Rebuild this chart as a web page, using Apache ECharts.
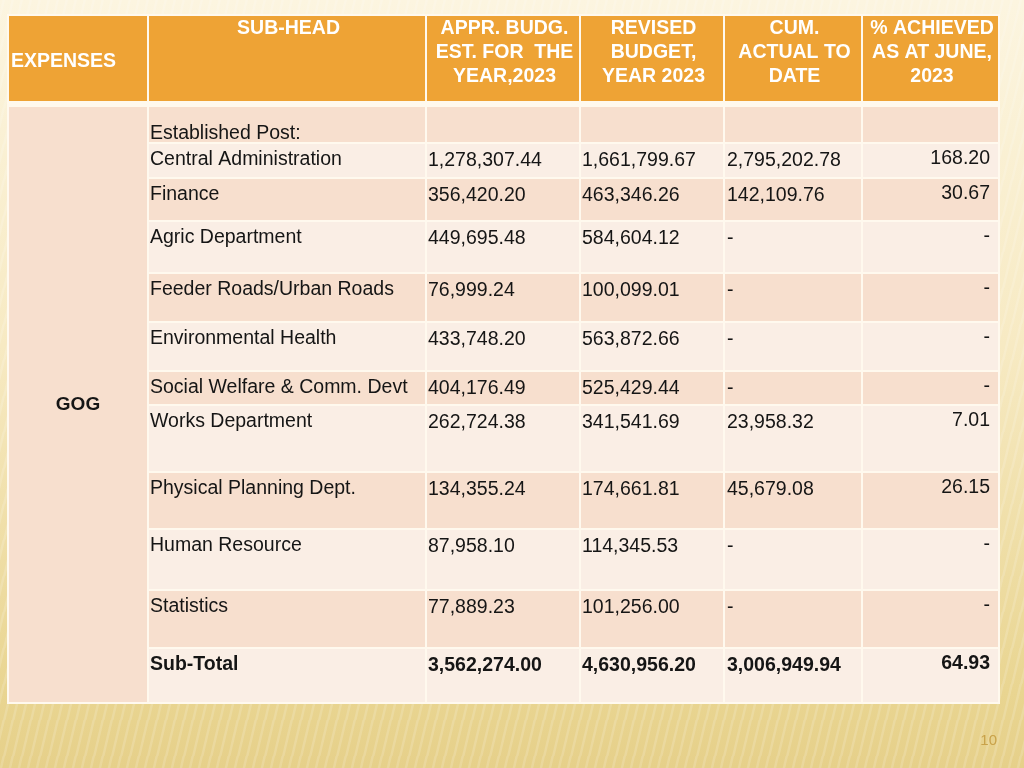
<!DOCTYPE html>
<html>
<head>
<meta charset="utf-8">
<script src="https://cdn.jsdelivr.net/npm/echarts@6/dist/echarts.min.js"></script>
<style>
html,body{margin:0;padding:0;width:1024px;height:768px;overflow:hidden;}
#chart{width:1024px;height:768px;}
</style>
</head>
<body>
<div id="chart"></div>
<script>
// ---------- DATA ----------
const headers = [
  'EXPENSES',
  'SUB-HEAD',
  'APPR. BUDG.\nEST. FOR  THE\nYEAR,2023',
  'REVISED\nBUDGET,\nYEAR 2023',
  'CUM.\nACTUAL TO\nDATE',
  '% ACHIEVED\nAS AT JUNE,\n2023'
];
const groupLabel = 'GOG';
const subHeads = [
  'Established Post:',
  'Central Administration',
  'Finance',
  'Agric Department',
  'Feeder Roads/Urban Roads',
  'Environmental Health',
  'Social Welfare & Comm. Devt',
  'Works Department',
  'Physical Planning Dept.',
  'Human Resource',
  'Statistics',
  'Sub-Total'
];
const approvedBudget = [null, 1278307.44, 356420.20, 449695.48, 76999.24, 433748.20, 404176.49, 262724.38, 134355.24, 87958.10, 77889.23, 3562274.00];
const revisedBudget  = [null, 1661799.67, 463346.26, 584604.12, 100099.01, 563872.66, 525429.44, 341541.69, 174661.81, 114345.53, 101256.00, 4630956.20];
const cumActual      = [null, 2795202.78, 142109.76, 0, 0, 0, 0, 23958.32, 45679.08, 0, 0, 3006949.94];
const pctAchieved    = [null, 168.20, 30.67, 0, 0, 0, 0, 7.01, 26.15, 0, 0, 64.93];
const pageNumber = '10';

// ---------- LAYOUT (table geometry in axis units) ----------
const colEdges = [8, 148, 426, 580, 724, 862, 999];
const headerTop = 15, headerBottom = 102;
const rowEdges = [106, 143, 178, 221, 273, 322, 371, 405, 472, 529, 590, 648, 703];

const FONT = '"Liberation Sans", Arial, Helvetica, sans-serif';
const C_HEADER = '#EEA335';
const C_DARK = '#F7DFCE';
const C_LIGHT = '#FAEEE5';
const C_TEXT = '#151515';

function fmt(v) {
  if (v === null || v === undefined) return '';
  if (v === 0) return '-';
  return v.toLocaleString('en-US', {minimumFractionDigits: 2, maximumFractionDigits: 2});
}

// build cells
const cells = [];
headers.forEach((h, c) => cells.push({kind: 'header', c: c, r: -1, text: h}));
cells.push({kind: 'group', c: 0, r: 0, text: groupLabel});
subHeads.forEach((s, r) => {
  const bold = r === subHeads.length - 1;
  cells.push({kind: 'sub', c: 1, r: r, text: s, bold: bold});
  cells.push({kind: 'num', c: 2, r: r, text: fmt(approvedBudget[r]), bold: bold});
  cells.push({kind: 'num', c: 3, r: r, text: fmt(revisedBudget[r]), bold: bold});
  cells.push({kind: 'num', c: 4, r: r, text: fmt(cumActual[r]), bold: bold});
  cells.push({kind: 'pct', c: 5, r: r, text: fmt(pctAchieved[r]), bold: bold});
});

function renderItem(params, api) {
  const cell = cells[params.dataIndex];
  let x0 = colEdges[cell.c], x1 = colEdges[cell.c + 1];
  let y0, y1;
  if (cell.kind === 'header') { y0 = headerTop; y1 = headerBottom; }
  else if (cell.kind === 'group') { y0 = rowEdges[0]; y1 = rowEdges[rowEdges.length - 1]; }
  else { y0 = rowEdges[cell.r]; y1 = rowEdges[cell.r + 1]; }
  const p0 = api.coord([x0, y0]);
  const p1 = api.coord([x1, y1]);
  const w = p1[0] - p0[0], h = p1[1] - p0[1];
  let fill;
  if (cell.kind === 'header') fill = C_HEADER;
  else if (cell.kind === 'group') fill = C_DARK;
  else fill = (cell.r % 2 === 0) ? C_DARK : C_LIGHT;
  const rect = {
    type: 'rect',
    shape: {x: p0[0] + 1, y: p0[1] + 1, width: w - 2, height: h - 2},
    style: {fill: fill}
  };
  const weight = (cell.kind === 'header' || cell.kind === 'group' || cell.bold) ? 'bold' : 'normal';
  const ts = {
    text: cell.text,
    fill: cell.kind === 'header' ? '#FFFFFF' : C_TEXT,
    font: weight + ' 19.5px ' + FONT,
    lineHeight: 24
  };
  if (cell.kind === 'header') {
    ts.lineHeight = 24;
    if (cell.c === 0) {
      ts.x = p0[0] + 3; ts.y = (p0[1] + p1[1]) / 2 + 3; ts.align = 'left'; ts.verticalAlign = 'middle';
    } else {
      ts.x = (p0[0] + p1[0]) / 2 + 1.5; ts.y = p0[1] + 2; ts.align = 'center'; ts.verticalAlign = 'top';
    }
    ts.font = 'bold 19.5px ' + FONT;
  } else if (cell.kind === 'group') {
    ts.x = (p0[0] + p1[0]) / 2; ts.y = (p0[1] + p1[1]) / 2; ts.align = 'center'; ts.verticalAlign = 'middle';
    ts.font = 'bold 19px ' + FONT;
  } else {
    ts.lineHeight = 20;
    if (cell.kind === 'sub') {
      ts.x = p0[0] + 2; ts.align = 'left';
      if (cell.r === 0) { ts.y = p1[1] + 1; ts.verticalAlign = 'bottom'; }
      else { ts.y = p0[1] + 6.5; ts.verticalAlign = 'top'; }
    } else if (cell.kind === 'num') {
      ts.x = p0[0] + (cell.c === 4 ? 3 : 2); ts.align = 'left';
      ts.y = p0[1] + 7.5; ts.verticalAlign = 'top';
    } else {
      ts.x = p1[0] - 9; ts.align = 'right';
      ts.y = p0[1] + 5.5; ts.verticalAlign = 'top';
    }
  }
  return {type: 'group', children: [rect, {type: 'text', style: ts}]};
}

// stripe pattern for background
function stripePattern() {
  const cv = document.createElement('canvas');
  cv.width = 9; cv.height = 36;
  const ctx = cv.getContext('2d');
  ctx.strokeStyle = 'rgba(255,255,255,0.16)';
  ctx.lineWidth = 2.5;
  for (let k = -9; k <= 18; k += 9) {
    ctx.beginPath(); ctx.moveTo(k + 4, -1); ctx.lineTo(k - 5, 37); ctx.stroke();
  }
  return cv;
}

const chart = echarts.init(document.getElementById('chart'), null, {renderer: 'canvas'});
chart.setOption({
  animation: false,
  backgroundColor: {
    type: 'linear', x: 0, y: 0, x2: 0, y2: 1,
    colorStops: [
      {offset: 0, color: '#FCF5E0'},
      {offset: 0.45, color: '#F7EAC3'},
      {offset: 0.9, color: '#E9D591'},
      {offset: 1, color: '#E6D08A'}
    ]
  },
  graphic: [
    {type: 'rect', left: 0, top: 0, z: -10, silent: true,
     shape: {width: 1024, height: 768},
     style: {fill: {image: stripePattern(), repeat: 'repeat'}}},
    {type: 'rect', left: 7, top: 14, z: -5, silent: true,
     shape: {width: 993, height: 690},
     style: {fill: '#FFF9EE'}},
    {type: 'text', right: 27, top: 733, z: 10, silent: true,
     style: {text: pageNumber, fill: '#C9A24A', font: '15px ' + FONT}}
  ],
  grid: {left: 0, right: 0, top: 0, bottom: 0},
  xAxis: {type: 'value', min: 0, max: 1024, show: false},
  yAxis: {type: 'value', min: 0, max: 768, inverse: true, show: false},
  series: [{
    type: 'custom',
    renderItem: renderItem,
    data: cells.map(c => [c.c, c.r]),
    silent: true
  }]
});
</script>
</body>
</html>
